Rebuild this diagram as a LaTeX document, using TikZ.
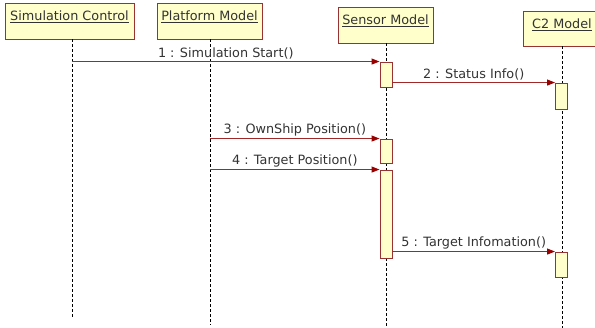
\documentclass[tikz,border=0pt]{standalone}
\usepackage{fontspec}
\setmainfont{DejaVu Sans}
\usetikzlibrary{arrows.meta}
\definecolor{boxfill}{HTML}{FFFFCC}
\definecolor{boxline}{HTML}{993333}
\definecolor{msgline}{HTML}{A02828}
\definecolor{tipcol}{HTML}{990000}
\definecolor{txt}{HTML}{333333}
\newcommand{\ulbox}[1]{\setbox0\hbox{#1}\rlap{\rule[-2.6pt]{\wd0}{0.7pt}}\box0}
\begin{document}
\begin{tikzpicture}[x=1pt,y=-1pt,
  objbox/.style={draw=boxline, fill=boxfill, line width=0.9pt, inner sep=0pt, rectangle},
  objtext/.style={anchor=base, inner sep=0pt, text=txt, font=\fontsize{12.8pt}{15pt}\selectfont},
  life/.style={draw=black, line width=0.8pt, dash pattern=on 3pt off 2pt},
  act/.style={draw=boxline, fill=boxfill, line width=0.9pt, inner sep=0pt, minimum width=12pt},
  msg/.style={draw=msgline, line width=0.9pt, -{Triangle[length=8pt,width=6pt,color=tipcol]}},
  mlabel/.style={above, inner sep=1.5pt, text=txt, font=\fontsize{12.8pt}{15pt}\selectfont}]
\useasboundingbox (0,0) rectangle (595,328);
\clip (0,0) rectangle (595,328);
% object boxes
\node[objbox, minimum width=129pt, minimum height=36pt] (sc) at (69.5,21) {};
\node[objbox, minimum width=105pt, minimum height=36pt] (pm) at (209.5,21) {};
\node[objbox, minimum width=95pt, minimum height=36pt] (sm) at (385.5,25) {};
\node[objbox, minimum width=78pt, minimum height=35pt] (c2) at (562,28.5) {};
\node[objtext] (sct) at ([yshift=-17.5pt]sc.north) {\ulbox{Simulation Control}};
\node[objtext] (pmt) at ([yshift=-17.5pt]pm.north) {\ulbox{Platform Model}};
\node[objtext] (smt) at ([yshift=-18pt]sm.north) {\ulbox{Sensor Model}};
\node[objtext] (c2t) at ([yshift=-17.5pt]c2.north) {\ulbox{C2 Model}};
% lifeline ends
\coordinate (e1) at (72,318);
\coordinate (e2) at (210,325);
\coordinate (e3) at (386,327);
\coordinate (e4) at (562,328);
\draw[life] (sc.south -| e1) -- (e1);
\draw[life] (pm.south -| e2) -- (e2);
\draw[life] (sm.south -| e3) -- (e3);
\draw[life] (c2.south -| e4) -- (e4);
% activations
\node[act, minimum height=25pt] (a1) at (386,74.5) {};
\node[act, minimum height=26pt] (a2) at (561.5,96) {};
\node[act, minimum height=24pt] (a3) at (386,151) {};
\node[act, minimum height=88pt] (a4) at (386,214) {};
\node[act, minimum height=25pt] (a5) at (561.5,264.5) {};
% messages
\draw[msg] (e1 |- a1.north west) -- node[mlabel] (m1) {1 : Simulation Start()} (a1.north west);
\draw[msg] (a1.east |- a2.north west) -- node[mlabel] (m2) {2 : Status Info()} (a2.north west);
\draw[msg] (e2 |- a3.north west) -- node[mlabel] (m3) {3 : OwnShip Position()} (a3.north west);
\draw[msg] (e2 |- a4.north west) -- node[mlabel] (m4) {4 : Target Position()} (a4.north west);
\draw[msg] (a4.east |- a5.north west) -- node[mlabel] (m5) {5 : Target Infomation()} (a5.north west);
\end{tikzpicture}
\end{document}
